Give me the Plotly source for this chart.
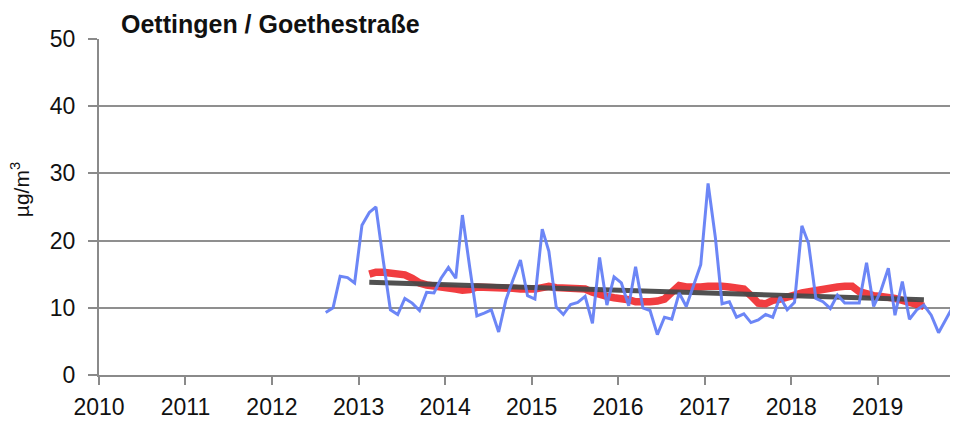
import plotly.graph_objects as go

# Monthly mean values (blue), Aug 2012 - Dec 2019
blue_start = (2012, 8)
blue_vals = [
    9.3, 10.0, 14.7, 14.5, 13.7,                                   # 2012 Aug-Dec
    22.3, 24.2, 25.0, 17.0, 9.7, 9.0, 11.4, 10.7, 9.6, 12.3, 12.2, 14.4,   # 2013
    16.0, 14.4, 23.8, 16.0, 8.8, 9.2, 9.7, 6.4, 11.2, 14.2, 17.1, 11.8,    # 2014
    11.3, 21.7, 18.4, 10.1, 9.0, 10.5, 10.8, 11.7, 7.7, 17.5, 10.4, 14.6,  # 2015
    13.7, 10.3, 16.1, 10.0, 9.6, 6.0, 8.6, 8.3, 12.2, 10.2, 13.5, 16.4,    # 2016
    28.5, 20.4, 10.6, 10.9, 8.6, 9.1, 7.8, 8.2, 9.0, 8.6, 11.6, 9.7,       # 2017
    10.8, 22.2, 19.6, 11.4, 10.9, 9.9, 11.9, 10.7, 10.7, 10.7, 16.7, 10.2, # 2018
    12.6, 15.9, 8.9, 13.9, 8.3, 9.7, 10.4, 8.9, 6.3, 8.2, 10.2, 10.4,      # 2019
]

# 12-month running mean (red), Feb 2013 - Jul 2019
red_start = (2013, 2)
red_vals = [
    15.0, 15.3, 15.3, 15.1, 15.0, 14.9, 14.4, 13.7, 13.4, 13.3, 13.1,       # 2013 Feb-Dec
    12.9, 12.8, 12.6, 12.7, 13.1, 13.1, 12.9, 12.9, 13.0, 12.9, 12.8, 12.7, # 2014
    12.8, 13.0, 13.2, 13.0, 12.9, 12.9, 12.9, 12.8, 12.3, 11.9, 11.7, 11.5, # 2015
    11.4, 11.2, 10.9, 10.8, 10.9, 11.0, 11.3, 12.3, 13.3, 13.1, 13.0, 13.1, # 2016
    13.2, 13.3, 13.2, 13.1, 13.0, 12.8, 11.8, 10.7, 10.6, 11.1, 11.3, 11.5, # 2017
    11.9, 12.2, 12.4, 12.6, 12.8, 13.0, 13.1, 13.2, 13.2, 12.4, 12.0, 11.8, # 2018
    11.7, 11.6, 11.4, 11.1, 10.9, 10.5, 10.2,                               # 2019 Jan-Jul
]

# Trend line (dark grey)
trend_dates = ["2013-02-15", "2013-08-15", "2014-06-15", "2015-03-15", "2016-01-15",
               "2016-09-15", "2017-03-15", "2017-09-15", "2018-07-15", "2019-07-15"]
trend_vals = [13.8, 13.6, 13.2, 13.0, 12.6, 12.25, 12.15, 11.8, 11.55, 11.2]

year_ticks = [f"{y}-01-01" for y in range(2010, 2020)]
year_labels = [str(y) for y in range(2010, 2020)]
y_ticks = [0, 10, 20, 30, 40, 50]
title_text = "<b>Oettingen / Goethestraße</b>"
y_title = "µg/m<sup>3</sup>"


def month_dates(start, n):
    y, m = start
    out = []
    for _ in range(n):
        out.append(f"{y}-{m:02d}-15")
        m += 1
        if m > 12:
            m = 1
            y += 1
    return out


blue_dates = month_dates(blue_start, len(blue_vals))
red_dates = month_dates(red_start, len(red_vals))

FONT = "Liberation Sans, Arial, sans-serif"

# the page body adds an 8px offset; figure is sized to end at the window edge
W, H = 950, 415
ML, MT, MB = 91, 31, 48
PLOT_W = W - ML

fig = go.Figure()
fig.add_trace(go.Scatter(x=red_dates, y=red_vals, mode="lines",
                         line=dict(color="rgba(240,45,48,0.92)", width=7.5),
                         hoverinfo="skip"))
fig.add_trace(go.Scatter(x=trend_dates, y=trend_vals, mode="lines",
                         line=dict(color="rgba(72,72,72,0.95)", width=5),
                         hoverinfo="skip"))
fig.add_trace(go.Scatter(x=blue_dates, y=blue_vals, mode="lines",
                         line=dict(color="rgba(100,128,245,0.95)", width=3),
                         hoverinfo="skip"))

axis_font = dict(family=FONT, size=23, color="#111")

fig.update_layout(
    width=W, height=H,
    margin=dict(l=ML, r=0, t=MT, b=MB, autoexpand=False),
    paper_bgcolor="white", plot_bgcolor="white",
    showlegend=False,
    xaxis=dict(
        type="date",
        range=["2010-01-01", "2019-12-06"],
        tickvals=year_ticks, ticktext=year_labels,
        ticks="outside", ticklen=8, tickwidth=2, tickcolor="#8a8a8a",
        showline=True, linecolor="#8a8a8a", linewidth=2,
        showgrid=False, zeroline=False, automargin=False,
        tickfont=axis_font, ticklabelstandoff=2,
    ),
    yaxis=dict(
        range=[0, 50], tickvals=y_ticks,
        ticks="outside", ticklen=9, tickwidth=2, tickcolor="#8a8a8a",
        showline=True, linecolor="#8a8a8a", linewidth=2,
        showgrid=True, gridcolor="#8f8f8f", gridwidth=2,
        zeroline=False, automargin=False,
        tickfont=axis_font,
        ticklabelstandoff=8,
    ),
    annotations=[
        dict(
            text=title_text, xref="paper", yref="paper",
            x=21 / PLOT_W, y=1.0, xanchor="left", yanchor="bottom",
            showarrow=False, borderpad=0,
            font=dict(family=FONT, size=25, color="#111"),
        ),
        dict(
            text=y_title, xref="paper", yref="paper",
            x=-79 / PLOT_W, y=0.55, xanchor="center", yanchor="middle",
            textangle=-90, showarrow=False,
            font=dict(family=FONT, size=21, color="#111"),
        ),
    ],
)

fig.write_html("out.html")
